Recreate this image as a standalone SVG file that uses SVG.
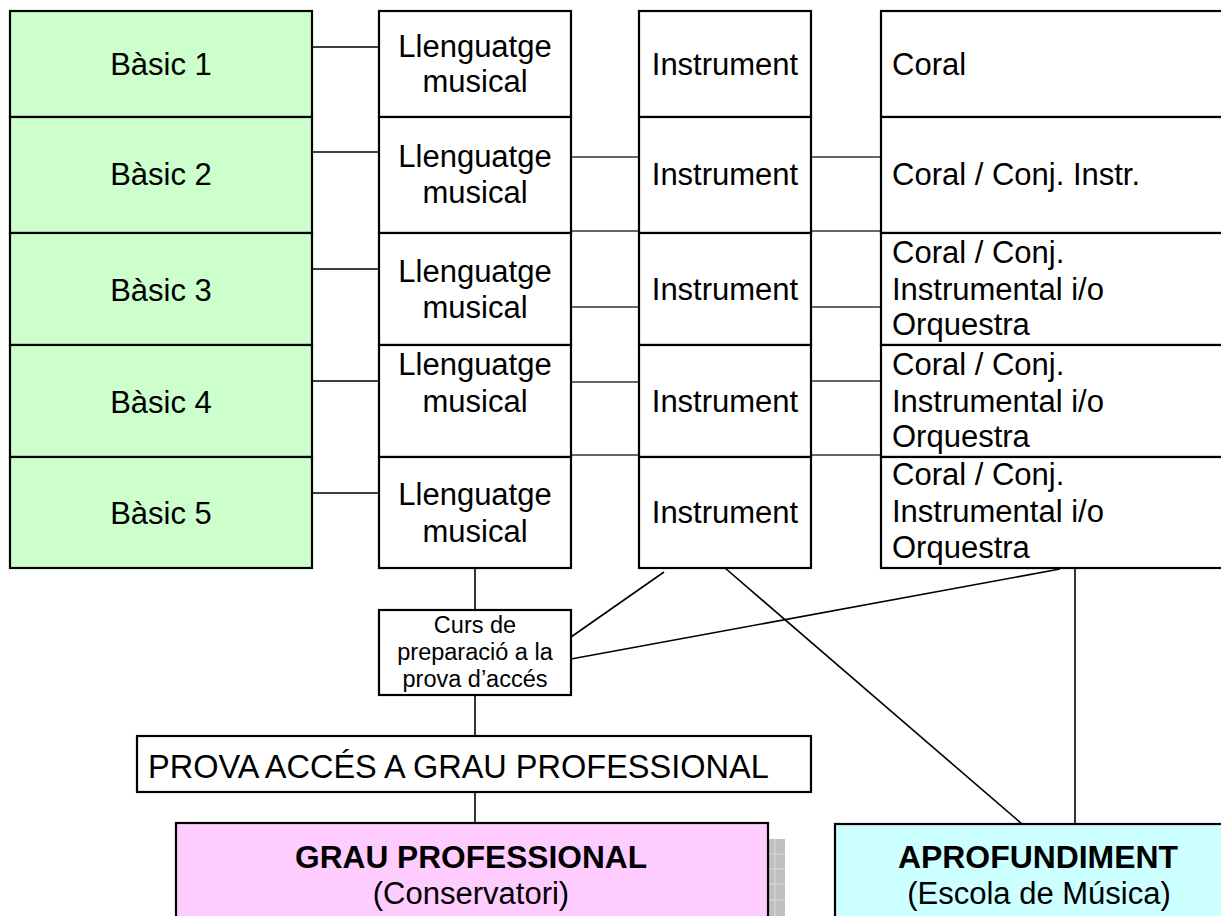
<svg xmlns="http://www.w3.org/2000/svg" width="1221" height="916" viewBox="0 0 1221 916">
<style>
text{font-family:"Liberation Sans",Arial,sans-serif;fill:#000}
.t{font-size:31px}
.c{text-anchor:middle}
.s{font-size:23.5px}
.b{font-weight:bold}
.box{stroke:#000;stroke-width:2.2}
.g{fill:#CCFFCC}
.w{fill:#FFFFFF}
.p{fill:#FFCCFF}
.y{fill:#CCFFFF}
.ln{stroke:#000;stroke-width:1.6;fill:none}
.lg{stroke:#333;stroke-width:1.6;fill:none}
</style>
<rect width="1221" height="916" fill="#fff"/>
<g id="connectors">
<line class="ln" x1="312" y1="47" x2="379" y2="47"/>
<line class="ln" x1="312" y1="152" x2="379" y2="152"/>
<line class="ln" x1="312" y1="269" x2="379" y2="269"/>
<line class="ln" x1="312" y1="381" x2="379" y2="381"/>
<line class="ln" x1="312" y1="493" x2="379" y2="493"/>
<line class="lg" x1="571" y1="157" x2="639" y2="157"/>
<line class="lg" x1="571" y1="231" x2="639" y2="231"/>
<line class="lg" x1="571" y1="307" x2="639" y2="307"/>
<line class="lg" x1="571" y1="382" x2="639" y2="382"/>
<line class="lg" x1="571" y1="455" x2="639" y2="455"/>
<line class="lg" x1="811" y1="157" x2="881" y2="157"/>
<line class="lg" x1="811" y1="231" x2="881" y2="231"/>
<line class="lg" x1="811" y1="307" x2="881" y2="307"/>
<line class="lg" x1="811" y1="381" x2="881" y2="381"/>
<line class="lg" x1="811" y1="455" x2="881" y2="455"/>
<line class="ln" x1="475" y1="568" x2="475" y2="610"/>
<line class="ln" x1="664" y1="572" x2="571" y2="637"/>
<line class="ln" x1="1060" y1="569" x2="571" y2="659"/>
<line class="ln" x1="725" y1="568" x2="1022" y2="824"/>
<line class="ln" x1="1075" y1="567" x2="1075" y2="824"/>
<line class="ln" x1="475" y1="695" x2="475" y2="736"/>
<line class="ln" x1="475" y1="792" x2="475" y2="823"/>
</g>
<g id="basic1"><rect class="box g" x="10" y="11" width="302" height="106"/><text class="t c" x="161" y="75">Bàsic 1</text></g>
<g id="basic2"><rect class="box g" x="10" y="117" width="302" height="116"/><text class="t c" x="161" y="185">Bàsic 2</text></g>
<g id="basic3"><rect class="box g" x="10" y="233" width="302" height="112"/><text class="t c" x="161" y="301">Bàsic 3</text></g>
<g id="basic4"><rect class="box g" x="10" y="345" width="302" height="112"/><text class="t c" x="161" y="413">Bàsic 4</text></g>
<g id="basic5"><rect class="box g" x="10" y="457" width="302" height="111"/><text class="t c" x="161" y="524">Bàsic 5</text></g>
<g id="llen1"><rect class="box w" x="379" y="11" width="192" height="106"/><text class="t c" x="475" y="57">Llenguatge</text><text class="t c" x="475" y="92">musical</text></g>
<g id="llen2"><rect class="box w" x="379" y="117" width="192" height="116"/><text class="t c" x="475" y="167">Llenguatge</text><text class="t c" x="475" y="203">musical</text></g>
<g id="llen3"><rect class="box w" x="379" y="233" width="192" height="112"/><text class="t c" x="475" y="282">Llenguatge</text><text class="t c" x="475" y="318">musical</text></g>
<g id="llen4"><rect class="box w" x="379" y="345" width="192" height="112"/><text class="t c" x="475" y="375">Llenguatge</text><text class="t c" x="475" y="412">musical</text></g>
<g id="llen5"><rect class="box w" x="379" y="457" width="192" height="111"/><text class="t c" x="475" y="505">Llenguatge</text><text class="t c" x="475" y="542">musical</text></g>
<g id="inst1"><rect class="box w" x="639" y="11" width="172" height="106"/><text class="t c" x="725" y="75">Instrument</text></g>
<g id="inst2"><rect class="box w" x="639" y="117" width="172" height="116"/><text class="t c" x="725" y="185">Instrument</text></g>
<g id="inst3"><rect class="box w" x="639" y="233" width="172" height="112"/><text class="t c" x="725" y="300">Instrument</text></g>
<g id="inst4"><rect class="box w" x="639" y="345" width="172" height="112"/><text class="t c" x="725" y="412">Instrument</text></g>
<g id="inst5"><rect class="box w" x="639" y="457" width="172" height="111"/><text class="t c" x="725" y="523">Instrument</text></g>
<g id="coral1"><rect class="box w" x="881" y="11" width="360" height="106"/><text class="t" x="892" y="75">Coral</text></g>
<g id="coral2"><rect class="box w" x="881" y="117" width="360" height="116"/><text class="t" x="892" y="185">Coral / Conj. Instr.</text></g>
<g id="coral3"><rect class="box w" x="881" y="233" width="360" height="112"/><text class="t" x="892" y="263">Coral / Conj.</text><text class="t" x="892" y="300">Instrumental i/o</text><text class="t" x="892" y="335">Orquestra</text></g>
<g id="coral4"><rect class="box w" x="881" y="345" width="360" height="112"/><text class="t" x="892" y="375">Coral / Conj.</text><text class="t" x="892" y="412">Instrumental i/o</text><text class="t" x="892" y="447">Orquestra</text></g>
<g id="coral5"><rect class="box w" x="881" y="457" width="360" height="111"/><text class="t" x="892" y="485">Coral / Conj.</text><text class="t" x="892" y="522">Instrumental i/o</text><text class="t" x="892" y="558">Orquestra</text></g>
<g id="curs"><rect class="box w" x="379" y="610" width="192" height="85"/><text class="s c" x="475" y="633">Curs de</text><text class="s c" x="475" y="660">preparació a la</text><text class="s c" x="475" y="687">prova d’accés</text></g>
<g id="prova"><rect class="box w" x="137" y="736" width="674" height="56"/><text x="148" y="778" style="font-size:32.5px">PROVA ACCÉS A GRAU PROFESSIONAL</text></g>
<g id="grau">
<rect x="768" y="839" width="17" height="80" fill="#C0C0C0"/>
<g stroke="#DCDCDC" stroke-width="1"><line x1="768" y1="854" x2="785" y2="854"/><line x1="768" y1="869" x2="785" y2="869"/><line x1="768" y1="884" x2="785" y2="884"/><line x1="768" y1="900" x2="785" y2="900"/><line x1="775" y1="839" x2="775" y2="916"/></g>
<rect class="box p" x="176" y="823" width="592" height="110"/>
<text class="t b c" x="471" y="868" textLength="352" lengthAdjust="spacingAndGlyphs">GRAU PROFESSIONAL</text>
<text class="t c" x="471" y="904">(Conservatori)</text>
</g>
<g id="aprofundiment">
<rect class="box y" x="835" y="824" width="420" height="110"/>
<text class="t b c" x="1038" y="868" textLength="280" lengthAdjust="spacingAndGlyphs">APROFUNDIMENT</text>
<text class="t c" x="1039" y="904">(Escola de Música)</text>
</g>
</svg>
